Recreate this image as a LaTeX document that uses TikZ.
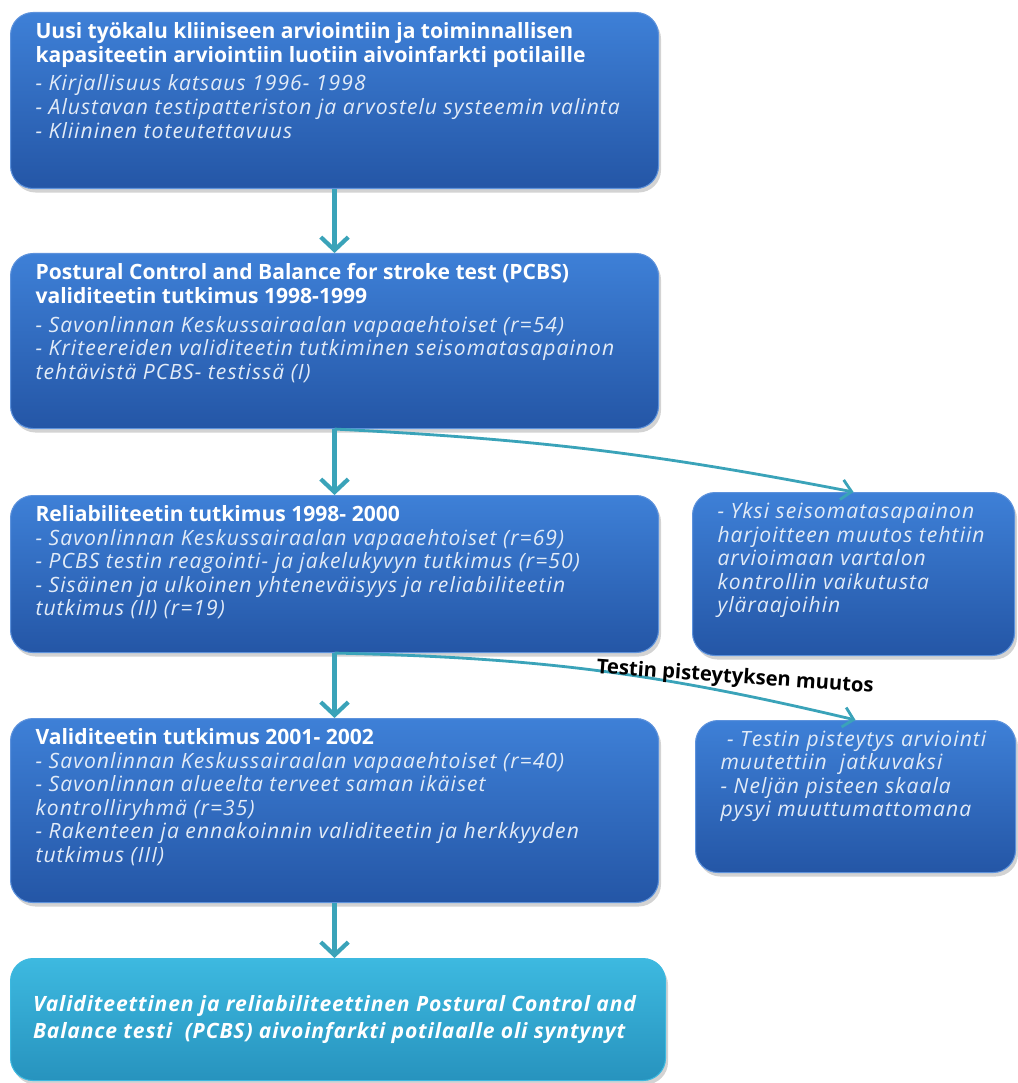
\documentclass[tikz,border=0pt]{standalone}
\usepackage{fontspec}
\setmainfont{Open Sans}[ItalicFeatures={LetterSpace=5},BoldItalicFeatures={LetterSpace=4}]
\usetikzlibrary{arrows.meta,shadows}
\definecolor{boxtop}{HTML}{3E80D7}
\definecolor{boxbot}{HTML}{2456A6}
\definecolor{boxedge}{HTML}{5D92DC}
\definecolor{endtop}{HTML}{3DB9E0}
\definecolor{endbot}{HTML}{2793BE}
\definecolor{flowteal}{HTML}{3AA3B9}
\definecolor{itemtext}{HTML}{E2EBF7}
\tikzset{
  stagebox/.style n args={2}{draw=boxedge,line width=0.6pt,
                  top color=boxtop,bottom color=boxbot,
                  rounded corners=0.45cm,text=white,anchor=north west,
                  inner xsep=0.5cm,inner ysep=0.2cm,
                  font=\fontsize{12}{13.4}\selectfont,
                  drop shadow={shadow xshift=0.05cm,shadow yshift=-0.08cm,opacity=0.35},
                  execute at begin node={\begin{minipage}[t][#2][t]{#1}\raggedright},
                  execute at end node={\end{minipage}}},
  endbox/.style n args={2}{draw=endtop,line width=0.6pt,
                  top color=endtop,bottom color=endbot,
                  rounded corners=0.45cm,text=white,anchor=north west,
                  inner xsep=0.45cm,inner ysep=0.2cm,
                  font=\fontsize{12}{15}\selectfont\bfseries\itshape,
                  drop shadow={shadow xshift=0.05cm,shadow yshift=-0.08cm,opacity=0.35},
                  execute at begin node={\begin{minipage}[c][#2][c]{#1}\raggedright},
                  execute at end node={\end{minipage}}},
  downarr/.style={-{Straight Barb[length=2.6mm,width=5.5mm]},line width=2.4pt,color=flowteal},
  sidearr/.style={-{Straight Barb[length=2mm,width=4mm]},line width=1.6pt,color=flowteal}
}

\begin{document}
\begin{tikzpicture}
  \useasboundingbox (0,0) rectangle (20.34,-21.66);
  % main column
  \node[stagebox={11.96cm}{3.12cm}] (tool) at (0.2,-0.24)
    {\textbf{Uusi työkalu kliiniseen arviointiin ja toiminnallisen}\\
     \textbf{kapasiteetin arviointiin luotiin aivoinfarkti potilaille}\\[3pt]
     \itshape\color{itemtext}- Kirjallisuus katsaus 1996- 1998\\
     - Alustavan testipatteriston  ja arvostelu systeemin valinta\\
     - Kliininen toteutettavuus};
  \node[stagebox={11.96cm}{3.1cm}] (pcbs) at (0.2,-5.06)
    {\textbf{Postural Control and Balance for stroke test (PCBS)}\\
     \textbf{validiteetin tutkimus 1998-1999}\\[3pt]
     \itshape\color{itemtext}- Savonlinnan Keskussairaalan vapaaehtoiset (r=54)\\
     - Kriteereiden validiteetin tutkiminen seisomatasapainon\\
     tehtävistä PCBS- testissä (I)};
  \node[stagebox={11.96cm}{2.74cm}] (reliab) at (0.2,-9.9)
    {\textbf{Reliabiliteetin tutkimus 1998- 2000}\\
     \itshape\color{itemtext}- Savonlinnan Keskussairaalan vapaaehtoiset (r=69)\\
     - PCBS testin reagointi- ja jakelukyvyn tutkimus (r=50)\\
     - Sisäinen ja ulkoinen yhteneväisyys ja reliabiliteetin\\
     tutkimus (II) (r=19)};
  \node[stagebox={11.96cm}{3.28cm}] (valid) at (0.2,-14.36)
    {\textbf{Validiteetin tutkimus 2001- 2002}\\
     \itshape\color{itemtext}- Savonlinnan Keskussairaalan vapaaehtoiset (r=40)\\
     - Savonlinnan alueelta terveet saman ikäiset\\
     kontrolliryhmä (r=35)\\
     - Rakenteen ja ennakoinnin validiteetin ja herkkyyden\\
     tutkimus (III)};
  \node[endbox={12.2cm}{2.04cm}] (result) at (0.2,-19.16)
    {Validiteettinen ja reliabiliteettinen Postural Control and\\
     Balance testi \ (PCBS) aivoinfarkti potilaalle oli syntynyt};
  % side column
  \node[stagebox={5.44cm}{2.86cm}] (trunk) at (13.84,-9.84)
    {\itshape\color{itemtext}- Yksi seisomatasapainon\\
     harjoitteen muutos tehtiin\\
     arvioimaan vartalon\\
     kontrollin vaikutusta\\
     yläraajoihin};
  \node[stagebox={5.4cm}{2.64cm}] (score) at (13.9,-14.4)
    {\itshape\color{itemtext}\ - Testin pisteytys arviointi\\
     muutettiin \ jatkuvaksi\\
     - Neljän pisteen skaala\\
     pysyi muuttumattomana};
  % connectors
  \draw[downarr] (tool.south) -- (pcbs.north);
  \draw[downarr] (pcbs.south) -- (reliab.north);
  \draw[downarr] (reliab.south) -- (valid.north);
  \draw[downarr] (valid.south) -- (valid.south |- result.north);
  \draw[sidearr] (pcbs.south) to[bend left=4] (trunk.north);
  \draw[sidearr] (reliab.south) to[bend left=6]
    node[pos=0.78,above=-1pt,rotate=-4,text=black,
         font=\fontsize{11.5}{13.4}\selectfont\bfseries] (scorelbl) {Testin pisteytyksen muutos}
    (score.north);
\end{tikzpicture}
\end{document}
